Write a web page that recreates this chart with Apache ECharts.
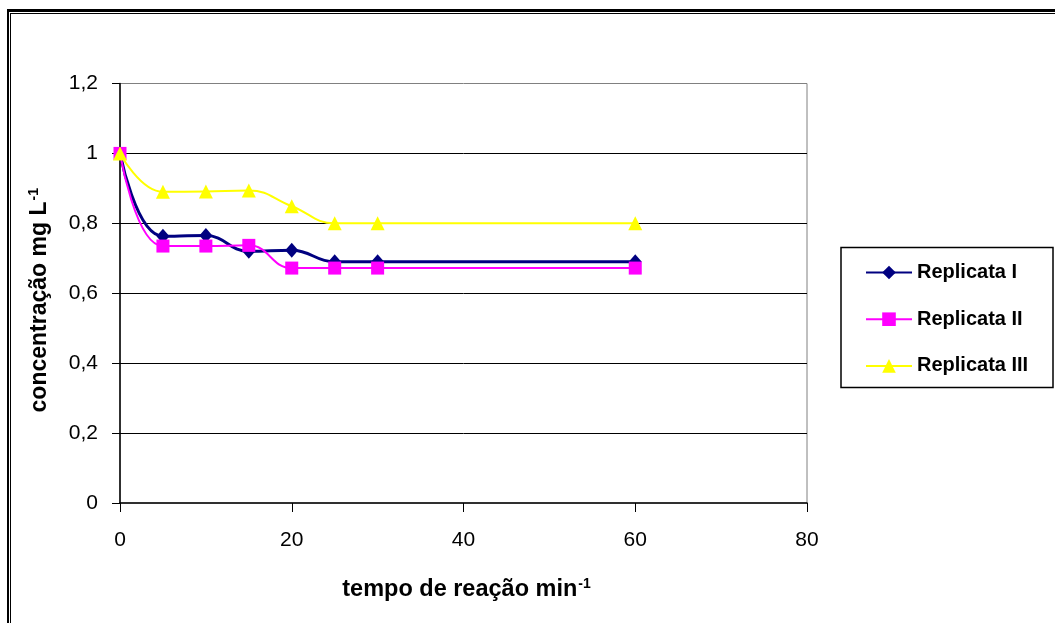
<!DOCTYPE html>
<html>
<head>
<meta charset="utf-8">
<script src="https://cdn.jsdelivr.net/npm/echarts@6/dist/echarts.min.js"></script>
<style>
html,body{margin:0;padding:0;background:#fff;}
#chart{width:1055px;height:623px;}
</style>
</head>
<body>
<div id="chart"></div>
<script>
var times = [0, 5, 10, 15, 20, 25, 30, 60];
var replicataI = [1, 0.763, 0.765, 0.72, 0.723, 0.69, 0.69, 0.69];
var replicataII = [1, 0.735, 0.735, 0.737, 0.672, 0.672, 0.672, 0.672];
var replicataIII = [1, 0.89, 0.891, 0.894, 0.849, 0.8, 0.8, 0.8];
var seriesNames = ['Replicata I', 'Replicata II', 'Replicata III'];
var yTickLabels = ['0', '0,2', '0,4', '0,6', '0,8', '1', '1,2'];
var xTickLabels = ['0', '20', '40', '60', '80'];

function pairs(ys) { return times.map(function (t, i) { return [t, ys[i]]; }); }

var FONT = '"Liberation Sans", Arial, sans-serif';
var chart = echarts.init(document.getElementById('chart'), null, {renderer: 'canvas'});

chart.setOption({
  backgroundColor: '#ffffff',
  animation: false,
  graphic: [
    {type: 'rect', shape: {x: 7, y: 9, width: 1048, height: 3}, style: {fill: '#000'}, silent: true},
    {type: 'rect', shape: {x: 10, y: 13, width: 1045, height: 1}, style: {fill: '#000'}, silent: true},
    {type: 'rect', shape: {x: 7, y: 9, width: 2, height: 614}, style: {fill: '#000'}, silent: true},
    {type: 'rect', shape: {x: 10, y: 13, width: 1, height: 610}, style: {fill: '#000'}, silent: true},
    {type: 'rect', shape: {x: 841, y: 247.5, width: 212, height: 140}, style: {fill: '#fff', stroke: '#000', lineWidth: 1.5}, silent: true, z: 1}
  ],
  grid: {
    left: 120, right: 248, top: 83.5, bottom: 120,
    show: true, borderColor: '#808080', borderWidth: 1, backgroundColor: 'transparent'
  },
  legend: {
    show: true,
    orient: 'vertical',
    left: 865, top: 261.5,
    padding: 0,
    itemWidth: 46, itemHeight: 17,
    itemGap: 24.7,
    textStyle: {fontFamily: FONT, fontSize: 20, fontWeight: 'bold', color: '#000', lineHeight: 22},
    data: seriesNames,
    z: 5
  },
  xAxis: {
    type: 'value',
    min: 0, max: 80, interval: 20,
    name: 'tempo de reação min{sup|-1}',
    nameLocation: 'middle',
    nameGap: 74,
    nameTextStyle: {
      fontFamily: FONT, fontSize: 23.5, fontWeight: 'bold', color: '#000',
      padding: [0, 0, 0, 6],
      rich: {sup: {fontFamily: FONT, fontSize: 14, fontWeight: 'bold', color: '#000', verticalAlign: 'top', padding: [0, 0, 12, 1]}}
    },
    axisLine: {show: true, onZero: false, lineStyle: {color: '#000', width: 1.5}},
    axisTick: {show: true, inside: false, length: 9, lineStyle: {color: '#000', width: 1}},
    axisLabel: {
      margin: 27, fontFamily: FONT, fontSize: 21, color: '#000',
      formatter: function (v, i) { return xTickLabels[i]; }
    },
    splitLine: {show: false}
  },
  yAxis: {
    type: 'value',
    min: 0, max: 1.2, interval: 0.2,
    name: 'concentração mg L{sup|-1}',
    nameLocation: 'middle',
    nameRotate: 90,
    nameGap: 67,
    nameTextStyle: {
      fontFamily: FONT, fontSize: 23, fontWeight: 'bold', color: '#000',
      padding: [0, 14, 0, 0],
      rich: {sup: {fontFamily: FONT, fontSize: 14, fontWeight: 'bold', color: '#000', verticalAlign: 'top', padding: [0, 0, 12, 1]}}
    },
    axisLine: {show: true, onZero: false, lineStyle: {color: '#000', width: 1.5}},
    axisTick: {show: true, inside: false, length: 8, lineStyle: {color: '#000', width: 1}},
    axisLabel: {
      margin: 22, fontFamily: FONT, fontSize: 21, color: '#000',
      formatter: function (v, i) { return yTickLabels[i]; }
    },
    splitLine: {show: true, showMinLine: false, showMaxLine: false, lineStyle: {color: '#000', width: 1}}
  },
  series: [
    {
      name: seriesNames[0], type: 'line', data: pairs(replicataI),
      smooth: 0.45,
      symbol: 'diamond', symbolSize: [13, 15],
      lineStyle: {color: '#000080', width: 3},
      itemStyle: {color: '#000080'},
      z: 3
    },
    {
      name: seriesNames[1], type: 'line', data: pairs(replicataII),
      smooth: 0.45,
      symbol: 'rect', symbolSize: 13,
      lineStyle: {color: '#ff00ff', width: 2},
      itemStyle: {color: '#ff00ff'},
      z: 3
    },
    {
      name: seriesNames[2], type: 'line', data: pairs(replicataIII),
      smooth: 0.45,
      symbol: 'triangle', symbolSize: 14,
      lineStyle: {color: '#ffff00', width: 2},
      itemStyle: {color: '#ffff00'},
      z: 3
    }
  ]
});
</script>
</body>
</html>
